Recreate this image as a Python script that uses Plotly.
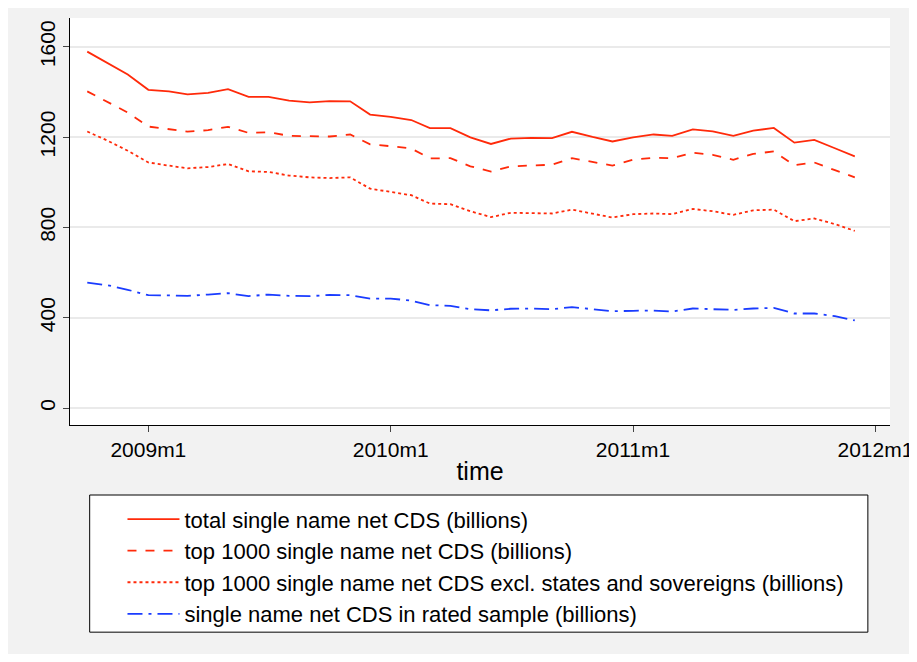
import pandas as pd
import plotly.graph_objects as go

months = pd.date_range("2008-10-01", "2011-12-01", freq="MS")

total = [1579, 1529, 1478, 1410, 1403, 1390, 1396, 1413, 1379, 1379, 1362, 1354, 1360, 1359,
         1300, 1290, 1276, 1240, 1240, 1199, 1170, 1194, 1197, 1196, 1224, 1201, 1181, 1199,
         1212, 1206, 1235, 1226, 1206, 1229, 1241, 1176, 1188, 1151, 1115]
top1000 = [1403, 1356, 1309, 1247, 1235, 1225, 1231, 1246, 1219, 1222, 1206, 1204, 1203, 1212,
           1168, 1160, 1150, 1106, 1107, 1071, 1048, 1071, 1075, 1078, 1107, 1090, 1074, 1100,
           1109, 1107, 1131, 1122, 1100, 1126, 1137, 1076, 1088, 1054, 1022]
top1000_excl = [1225, 1184, 1140, 1088, 1074, 1062, 1068, 1081, 1049, 1046, 1030, 1022, 1019, 1022,
                972, 957, 943, 906, 903, 872, 846, 865, 865, 862, 879, 862, 844, 859,
                862, 859, 882, 872, 856, 876, 879, 828, 840, 815, 785]
rated = [556, 544, 524, 500, 499, 497, 503, 509, 496, 503, 497, 496, 501, 500,
         485, 485, 476, 456, 453, 438, 433, 440, 441, 438, 447, 438, 429, 431,
         432, 428, 441, 438, 435, 441, 444, 419, 419, 407, 388]

series_names = ["total single name net CDS (billions)",
                "top 1000 single name net CDS (billions)",
                "top 1000 single name net CDS excl. states and sovereigns (billions)",
                "single name net CDS in rated sample (billions)"]
x_tick_vals = ["2009-01-01", "2010-01-01", "2011-01-01", "2012-01-01"]
x_tick_text = ["2009m1", "2010m1", "2011m1", "2012m1"]

red = "#ff2a0a"
blue = "#1a3cff"
styles = [(red, "solid"), (red, "dash"), (red, "dot"), (blue, "longdashdot")]

fig = go.Figure()
for ys, name, (col, dash) in zip([total, top1000, top1000_excl, rated], series_names, styles):
    fig.add_trace(go.Scatter(x=months, y=ys, name=name, mode="lines",
                             line=dict(color=col, dash=dash, width=1.8)))

# page has an 8px body margin, so the figure is shifted a little in the window
fig.update_layout(
    width=909, height=646,
    margin=dict(l=62, r=27, t=10, b=229),
    paper_bgcolor="#f2f2f2", plot_bgcolor="white",
    font=dict(family="Liberation Sans, Arial, sans-serif", size=21, color="black"),
    showlegend=True,
    legend=dict(x=0.064, xanchor="left", y=-0.18, yanchor="top", bgcolor="rgba(0,0,0,0)",
                font=dict(size=22), itemwidth=52),
    shapes=[dict(type="rect", xref="paper", yref="paper", x0=0.024, x1=0.973,
                 y0=-0.509, y1=-0.172, line=dict(color="black", width=1), fillcolor="white",
                 layer="below")],
)
fig.update_xaxes(range=["2008-09-05", "2012-01-23"], tickvals=x_tick_vals, ticktext=x_tick_text,
                 showgrid=False, showline=True, linecolor="black", ticks="outside", ticklen=6,
                 ticklabeloverflow="allow",
                 title=dict(text="time", standoff=2), automargin=False)
fig.update_yaxes(range=[-75, 1728], tickvals=[0, 400, 800, 1200, 1600], tickangle=-90,
                 showgrid=True, gridcolor="#eaeaea", gridwidth=2, zeroline=False,
                 showline=True, linecolor="black", ticks="outside", ticklen=6, automargin=False)

fig.write_html("out.html")
